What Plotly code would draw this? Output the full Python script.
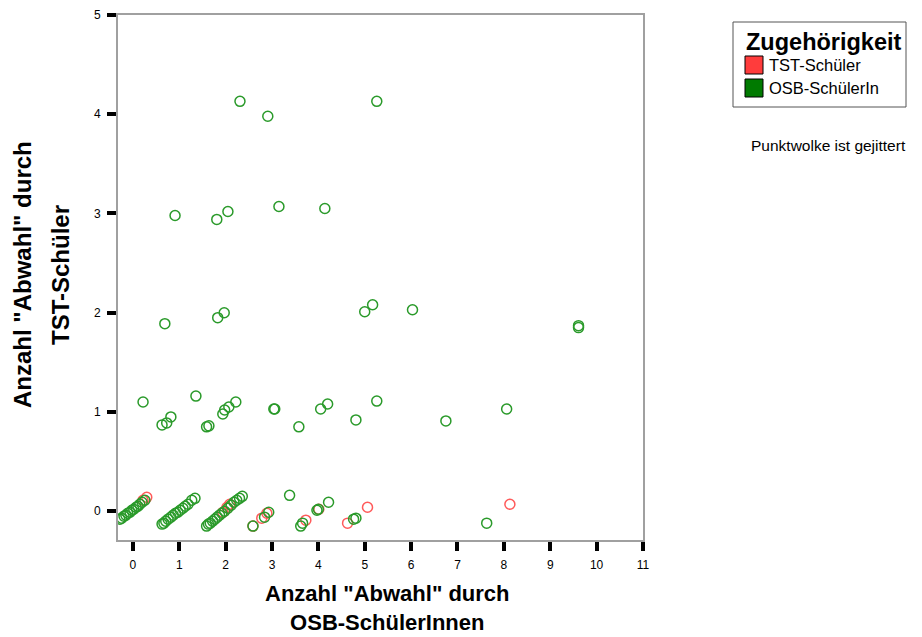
import plotly.graph_objects as go

# Jittered scatter values
osb_x = [-0.28, -0.24, -0.19, -0.15, -0.11, -0.06, -0.02, 0.02, 0.07, 0.11, 0.15, 0.20, 0.26,
         0.63, 0.67, 0.71, 0.76, 0.82, 0.87, 0.92, 0.97, 1.02, 1.08, 1.13, 1.19, 1.27, 1.34,
         1.59, 1.63, 1.67, 1.72, 1.77, 1.82, 1.87, 1.92, 1.98, 2.05, 2.12, 2.18, 2.24, 2.30, 2.36,
         2.59, 2.84, 2.93, 3.38, 3.62, 3.66, 3.97, 4.00, 4.22, 4.76, 4.81, 7.63,
         0.22, 0.63, 0.73, 0.82, 1.36, 1.59, 1.64, 1.94, 1.98, 2.07, 2.22, 3.04, 3.06, 3.58,
         4.05, 4.20, 4.81, 5.26, 6.75, 8.06,
         0.69, 1.83, 1.97, 5.00, 5.17, 6.03, 9.61, 9.61,
         0.91, 1.81, 2.05, 3.15, 4.14,
         2.31, 2.91, 5.26]
osb_y = [-0.08, -0.07, -0.05, -0.04, -0.02, -0.01, 0.01, 0.02, 0.04, 0.05, 0.07, 0.09, 0.11,
         -0.13, -0.12, -0.10, -0.08, -0.06, -0.04, -0.02, -0.01, 0.01, 0.03, 0.05, 0.07, 0.11, 0.13,
         -0.15, -0.13, -0.12, -0.10, -0.08, -0.06, -0.04, -0.02, 0.00, 0.03, 0.06, 0.09, 0.11, 0.13, 0.15,
         -0.15, -0.06, -0.01, 0.16, -0.15, -0.12, 0.01, 0.02, 0.09, -0.08, -0.07, -0.12,
         1.10, 0.87, 0.89, 0.95, 1.16, 0.85, 0.86, 0.98, 1.02, 1.05, 1.10, 1.03, 1.03, 0.85,
         1.03, 1.08, 0.92, 1.11, 0.91, 1.03,
         1.89, 1.95, 2.00, 2.01, 2.08, 2.03, 1.85, 1.87,
         2.98, 2.94, 3.02, 3.07, 3.05,
         4.13, 3.98, 4.13]

tst_x = [0.22, 0.30, 1.94, 2.03, 2.09, 2.59, 2.78, 2.89, 3.73, 4.01, 4.63, 5.06, 8.13]
tst_y = [0.11, 0.14, -0.01, 0.04, 0.07, -0.15, -0.07, -0.02, -0.09, 0.02, -0.12, 0.04, 0.07]

x_ticks = list(range(0, 12))
y_ticks = list(range(0, 6))

group_names = ["TST-Schüler", "OSB-SchülerIn"]
legend_title = "Zugehörigkeit"
x_title_lines = ['Anzahl "Abwahl" durch', "OSB-SchülerInnen"]
y_title_lines = ['Anzahl "Abwahl" durch', "TST-Schüler"]
note_text = "Punktwolke ist gejittert"

FONT = "Liberation Sans, Arial, sans-serif"
RED_M = "#FF5A5A"
GREEN_M = "#2A9A2A"
RED_L = "#FF3C3C"
GREEN_L = "#007A00"

fig = go.Figure()
fig.add_trace(go.Scatter(x=tst_x, y=tst_y, mode="markers", name=group_names[0], showlegend=False,
                         marker=dict(symbol="circle-open", size=10, color=RED_M, line=dict(width=1.5))))
fig.add_trace(go.Scatter(x=osb_x, y=osb_y, mode="markers", name=group_names[1], showlegend=False,
                         marker=dict(symbol="circle-open", size=10, color=GREEN_M, line=dict(width=1.5))))

axis_common = dict(showgrid=False, zeroline=False, showline=True, mirror=True,
                   linecolor="#A0A0A0", linewidth=2, ticks="outside", ticklen=9,
                   tickwidth=4, tickcolor="black", automargin=False,
                   tickfont=dict(family=FONT, size=12, color="black"))

# plot area in figure pixels: x 110..635, y 7..532  -> helper to convert to paper coords
def px(fx):
    return (fx - 110) / 525.0

def py(fy):
    return (532 - fy) / 525.0

shapes = [
    # legend box
    dict(type="rect", xref="paper", yref="paper", x0=px(725), x1=px(898), y0=py(99), y1=py(14),
         line=dict(color="#555555", width=1), fillcolor="white", layer="below"),
    # swatches
    dict(type="rect", xref="paper", yref="paper", x0=px(737), x1=px(755), y0=py(66), y1=py(48),
         line=dict(color="black", width=1), fillcolor=RED_L),
    dict(type="rect", xref="paper", yref="paper", x0=px(737), x1=px(755), y0=py(89), y1=py(71),
         line=dict(color="black", width=1), fillcolor=GREEN_L),
]

annotations = [
    dict(text="<b>%s</b>" % legend_title, x=px(736), y=py(34), xanchor="left", yanchor="middle",
         font=dict(family=FONT, size=23.5, color="black")),
    dict(text=group_names[0], x=px(759), y=py(57), xanchor="left", yanchor="middle",
         font=dict(family=FONT, size=16.5, color="black")),
    dict(text=group_names[1], x=px(759), y=py(80), xanchor="left", yanchor="middle",
         font=dict(family=FONT, size=16.5, color="black")),
    dict(text=note_text, x=px(741), y=py(137), xanchor="left", yanchor="middle",
         font=dict(family=FONT, size=15.5, color="black")),
    # x axis title (two lines in one text)
    dict(text="<b>%s<br>%s</b>" % tuple(x_title_lines), x=px(379), y=py(600), xanchor="center",
         yanchor="middle", font=dict(family=FONT, size=22, color="black")),
    # y axis title (two lines)
    dict(text="<b>%s</b>" % y_title_lines[0], x=px(14), y=py(267), xanchor="center", yanchor="middle",
         textangle=-90, font=dict(family=FONT, size=24, color="black")),
    dict(text="<b>%s</b>" % y_title_lines[1], x=px(52), y=py(267), xanchor="center", yanchor="middle",
         textangle=-90, font=dict(family=FONT, size=24, color="black")),
]
for a in annotations:
    a.update(xref="paper", yref="paper", showarrow=False)

fig.update_layout(
    width=914, height=629,
    margin=dict(l=110, r=279, t=7, b=97),
    paper_bgcolor="white", plot_bgcolor="white",
    font=dict(family=FONT, color="black"),
    showlegend=False,
    xaxis=dict(range=[-0.32, 11], tickvals=x_ticks, ticktext=[str(v) for v in x_ticks],
               ticklabelstandoff=4, **axis_common),
    yaxis=dict(range=[-0.29, 5], tickvals=y_ticks, ticktext=[str(v) for v in y_ticks],
               ticklabelstandoff=4, **axis_common),
    shapes=shapes,
    annotations=annotations,
)

fig.write_html("out.html")
